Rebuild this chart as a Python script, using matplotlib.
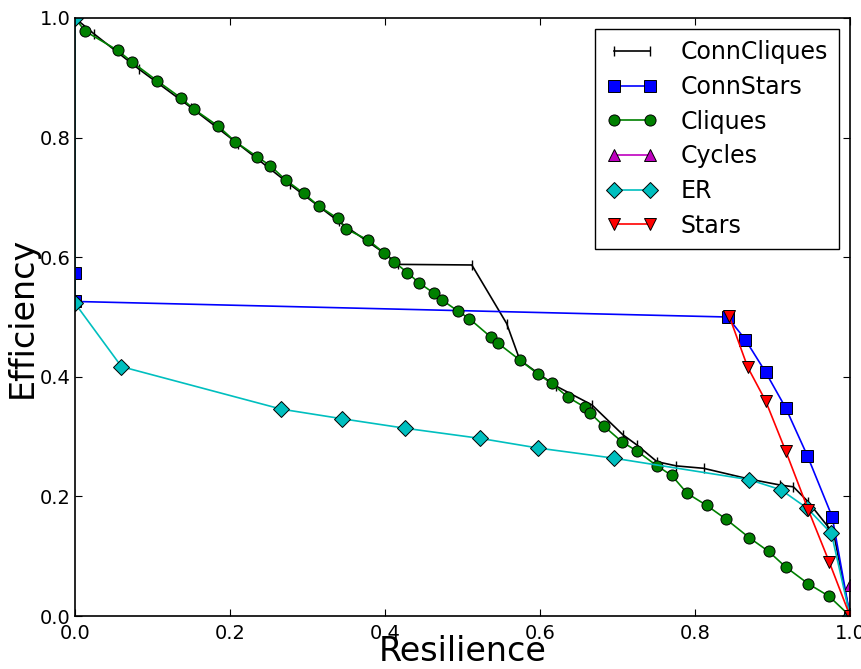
import matplotlib
matplotlib.use("Agg")
import matplotlib.pyplot as plt

# data
conncliques_x = [0.0, 0.024, 0.083, 0.15, 0.21, 0.277, 0.34, 0.40, 0.417, 0.512, 0.557, 0.574,
                 0.62, 0.667, 0.707, 0.725, 0.751, 0.776, 0.811, 0.87, 0.91, 0.927, 0.946,
                 0.970, 0.979, 1.0]
conncliques_y = [1.0, 0.974, 0.914, 0.85, 0.79, 0.722, 0.66, 0.606, 0.588, 0.587, 0.489, 0.428,
                 0.385, 0.353, 0.303, 0.286, 0.258, 0.251, 0.247, 0.229, 0.219, 0.216, 0.191,
                 0.152, 0.138, 0.0]

connstars_x = [0.0, 0.0, 0.842, 0.865, 0.891, 0.917, 0.945, 0.977, 1.0]
connstars_y = [0.573, 0.526, 0.500, 0.462, 0.408, 0.348, 0.268, 0.166, 0.0]

cliques_x = [0.0, 0.013, 0.055, 0.074, 0.106, 0.137, 0.154, 0.185, 0.207, 0.235, 0.252, 0.272,
             0.295, 0.315, 0.339, 0.350, 0.378, 0.399, 0.412, 0.429, 0.444, 0.463, 0.474,
             0.494, 0.509, 0.537, 0.546, 0.574, 0.598, 0.615, 0.636, 0.658, 0.665, 0.682,
             0.706, 0.725, 0.751, 0.770, 0.790, 0.815, 0.840, 0.870, 0.895, 0.917, 0.946,
             0.973, 1.0]
cliques_y = [1.0, 0.978, 0.946, 0.926, 0.895, 0.866, 0.847, 0.819, 0.793, 0.768, 0.753, 0.729,
             0.707, 0.685, 0.665, 0.647, 0.629, 0.607, 0.592, 0.574, 0.557, 0.540, 0.528,
             0.510, 0.497, 0.466, 0.456, 0.428, 0.404, 0.389, 0.366, 0.349, 0.339, 0.318,
             0.291, 0.276, 0.251, 0.235, 0.205, 0.185, 0.162, 0.131, 0.108, 0.082, 0.054,
             0.033, 0.0]

cycles_x = [1.0, 1.0]
cycles_y = [0.052, 0.0]

er_x = [0.0, 0.0, 0.060, 0.266, 0.344, 0.426, 0.523, 0.597, 0.695, 0.870, 0.911, 0.945,
        0.976, 1.0]
er_y = [1.0, 0.523, 0.417, 0.346, 0.330, 0.314, 0.297, 0.281, 0.264, 0.228, 0.211, 0.180,
        0.138, 0.0]

stars_x = [0.844, 0.868, 0.891, 0.917, 0.946, 0.973, 1.0]
stars_y = [0.502, 0.416, 0.360, 0.276, 0.178, 0.091, 0.0]

fig = plt.figure(figsize=(8.62, 6.69), dpi=100)
ax = fig.add_axes([0.087, 0.0792, 0.8991, 0.8939])

ms = 8
lw = 1.2
mew = 0.7
ax.plot(conncliques_x, conncliques_y, color="k", marker="|", ms=7, lw=lw, label="ConnCliques")
ax.plot(connstars_x, connstars_y, color=(0, 0, 1), marker="s", ms=ms, mec="k", mew=mew, lw=lw,
        label="ConnStars")
ax.plot(cliques_x, cliques_y, color=(0, 0.5, 0), marker="o", ms=ms, mec="k", mew=mew, lw=lw,
        label="Cliques")
ax.plot(cycles_x, cycles_y, color=(0.75, 0, 0.75), marker="^", ms=ms, mec="k", mew=mew, lw=lw,
        label="Cycles")
ax.plot(er_x, er_y, color=(0, 0.75, 0.75), marker="D", ms=ms, mec="k", mew=mew, lw=lw,
        label="ER")
ax.plot(stars_x, stars_y, color=(1, 0, 0), marker="v", ms=ms, mec="k", mew=mew, lw=lw,
        label="Stars")

ax.set_xlim(0, 1)
ax.set_ylim(0, 1)
ax.set_xticks([0.0, 0.2, 0.4, 0.6, 0.8, 1.0])
ax.set_yticks([0.0, 0.2, 0.4, 0.6, 0.8, 1.0])
ax.tick_params(direction="in", length=5, top=True, right=True, labelsize=14, pad=6)
ax.tick_params(axis="y", pad=3)
for s in ax.spines.values():
    s.set_linewidth(1.2)

ax.set_xlabel("Resilience", fontsize=24, labelpad=-6)
ax.set_ylabel("Efficiency", fontsize=24, labelpad=1)

leg = ax.legend(loc="upper right", numpoints=2, fontsize=17, fancybox=False, framealpha=1,
                handlelength=2.1, handletextpad=1.0, borderpad=0.5,
                borderaxespad=0.45, labelspacing=0.45)
leg.get_frame().set_edgecolor("k")
leg.get_frame().set_linewidth(1.0)

fig.savefig("out.png", dpi=100)
